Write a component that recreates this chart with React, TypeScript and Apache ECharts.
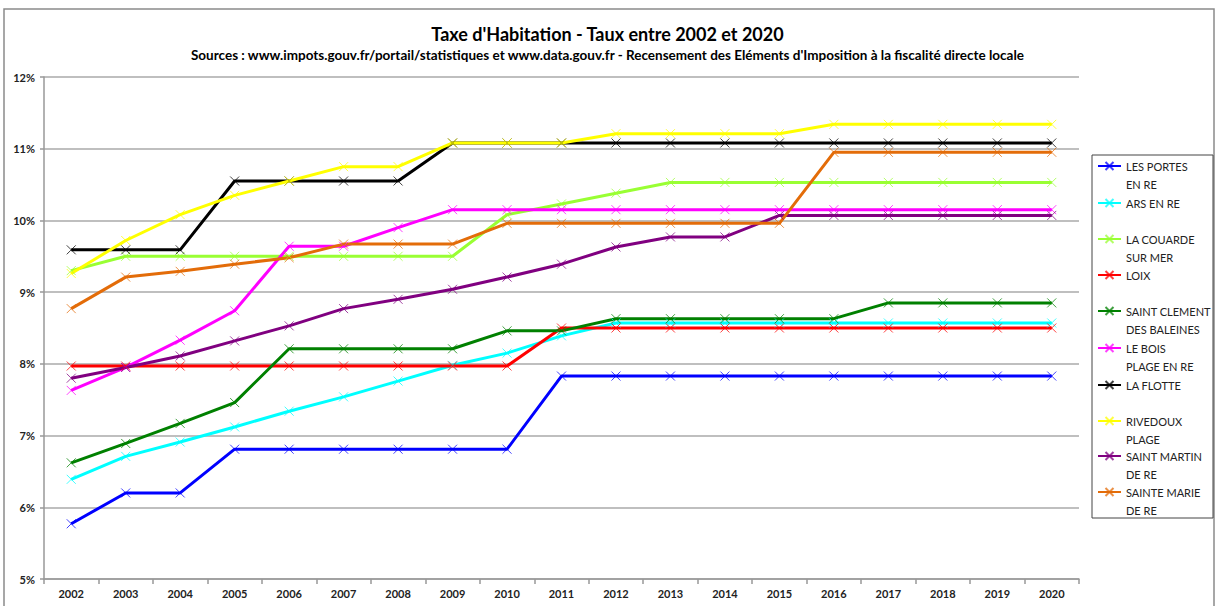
import React, { useEffect, useRef } from "react";
import * as echarts from "echarts";

const years = ["2002","2003","2004","2005","2006","2007","2008","2009","2010","2011","2012","2013","2014","2015","2016","2017","2018","2019","2020"];

const lesPortes = [5.77,6.20,6.20,6.81,6.81,6.81,6.81,6.81,6.81,7.83,7.83,7.83,7.83,7.83,7.83,7.83,7.83,7.83,7.83];
const arsEnRe = [6.39,6.71,6.91,7.12,7.34,7.54,7.76,7.98,8.15,8.39,8.57,8.57,8.57,8.57,8.57,8.57,8.57,8.57,8.57];
const laCouarde = [9.30,9.50,9.50,9.50,9.50,9.50,9.50,9.50,10.08,10.23,10.38,10.53,10.53,10.53,10.53,10.53,10.53,10.53,10.53];
const loix = [7.97,7.97,7.97,7.97,7.97,7.97,7.97,7.97,7.97,8.50,8.50,8.50,8.50,8.50,8.50,8.50,8.50,8.50,8.50];
const saintClement = [6.62,6.89,7.17,7.46,8.21,8.21,8.21,8.21,8.46,8.46,8.63,8.63,8.63,8.63,8.63,8.85,8.85,8.85,8.85];
const leBois = [7.63,7.95,8.33,8.74,9.64,9.64,9.90,10.15,10.15,10.15,10.15,10.15,10.15,10.15,10.15,10.15,10.15,10.15,10.15];
const laFlotte = [9.59,9.59,9.59,10.55,10.55,10.55,10.55,11.08,11.08,11.08,11.08,11.08,11.08,11.08,11.08,11.08,11.08,11.08,11.08];
const rivedoux = [9.26,9.72,10.08,10.35,10.55,10.75,10.75,11.08,11.08,11.08,11.21,11.21,11.21,11.21,11.34,11.34,11.34,11.34,11.34];
const saintMartin = [7.80,7.95,8.11,8.32,8.53,8.77,8.90,9.04,9.21,9.39,9.63,9.77,9.77,10.07,10.07,10.07,10.07,10.07,10.07];
const sainteMarie = [8.77,9.21,9.29,9.39,9.48,9.67,9.67,9.67,9.96,9.96,9.96,9.96,9.96,9.96,10.95,10.95,10.95,10.95,10.95];

const seriesDefs = [
  { name: "LES PORTES\nEN RE", color: "#0000FF", data: lesPortes },
  { name: "ARS EN RE", color: "#00FFFF", data: arsEnRe },
  { name: "LA COUARDE\nSUR MER", color: "#99FF33", data: laCouarde },
  { name: "LOIX", color: "#FF0000", data: loix },
  { name: "SAINT CLEMENT\nDES BALEINES", color: "#008000", data: saintClement },
  { name: "LE BOIS\nPLAGE EN RE", color: "#FF00FF", data: leBois },
  { name: "LA FLOTTE", color: "#000000", data: laFlotte },
  { name: "RIVEDOUX\nPLAGE", color: "#FFFF00", data: rivedoux },
  { name: "SAINT MARTIN\nDE RE", color: "#800080", data: saintMartin },
  { name: "SAINTE MARIE\nDE RE", color: "#E36C09", data: sainteMarie },
];

const legendCenters = [166, 203, 239, 275, 311, 348, 385, 421, 456, 492];

const FONT = "Lato, 'Open Sans', sans-serif";
const X_SYMBOL = "path://M0,0L10,10M0,10L10,0";

export default function App() {
  const ref = useRef<HTMLDivElement>(null);
  useEffect(() => {
    if (!ref.current) return;
    const chart = echarts.init(ref.current, undefined, { renderer: "svg" });
    const legends = seriesDefs.map((s, i) => {
      const twoLine = s.name.indexOf("\n") >= 0;
      return {
        data: [s.name],
        orient: "vertical",
        left: 1097,
        top: legendCenters[i] - (twoLine ? 27 : 9),
        padding: 0,
        itemWidth: 23,
        itemHeight: 10,
        selectedMode: false,
        formatter: (n: string) => (n.indexOf("\n") >= 0 ? "\n" + n : n),
        textStyle: {
          fontFamily: FONT,
          fontSize: 11,
          color: "#222",
          lineHeight: 18,
        },
      };
    });
    chart.setOption({
      animation: false,
      backgroundColor: "#fff",
      title: {
        text: "Taxe d'Habitation - Taux entre 2002 et 2020",
        subtext: "Sources : www.impots.gouv.fr/portail/statistiques et www.data.gouv.fr - Recensement des Eléments d'Imposition à la fiscalité directe locale",
        left: "center",
        top: 23,
        padding: 0,
        itemGap: 2,
        textStyle: { fontFamily: FONT, fontSize: 18, fontWeight: "bold", color: "#000", lineHeight: 22 },
        subtextStyle: { fontFamily: FONT, fontSize: 13.5, fontWeight: "bold", color: "#000", lineHeight: 16 },
      },
      legend: legends,
      graphic: [
        {
          type: "rect",
          shape: { x: 4, y: 9, width: 1210, height: 640 },
          style: { fill: "none", stroke: "#8a8a8a", lineWidth: 1.5 },
          silent: true,
        },
        {
          type: "rect",
          shape: { x: 1092, y: 155, width: 121, height: 363 },
          style: { fill: "none", stroke: "#444", lineWidth: 1 },
          silent: true,
        },
      ],
      grid: { left: 44, right: 136, top: 77, bottom: 27 },
      xAxis: {
        type: "category",
        data: years,
        boundaryGap: true,
        axisLine: { lineStyle: { color: "#999", width: 1.5 } },
        axisTick: { show: true, length: 5, lineStyle: { color: "#999", width: 1.5 } },
        axisLabel: { fontFamily: FONT, fontSize: 11, fontWeight: "bold", color: "#222", margin: 9 },
        splitLine: { show: false },
      },
      yAxis: {
        type: "value",
        min: 5,
        max: 12,
        interval: 1,
        axisLine: { show: true, lineStyle: { color: "#999", width: 1.5 } },
        axisTick: { show: true, length: 4, lineStyle: { color: "#999", width: 1.5 } },
        axisLabel: { fontFamily: FONT, fontSize: 11, fontWeight: "bold", color: "#222", margin: 9, formatter: "{value}%" },
        splitLine: { lineStyle: { color: "#aaa", width: 1.5 } },
      },
      series: seriesDefs.map((s) => ({
        name: s.name,
        type: "line",
        data: s.data,
        color: s.color,
        symbol: X_SYMBOL,
        symbolSize: 9,
        showSymbol: true,
        lineStyle: { width: 3, color: s.color },
        itemStyle: { color: "none", borderColor: s.color, borderWidth: 1, opacity: 0.75 },
        emphasis: { disabled: true },
      })),
    });
    return () => chart.dispose();
  }, []);
  return (
    <div
      ref={ref}
      style={{ position: "absolute", left: 0, top: 0, width: 1215, height: 606 }}
    />
  );
}
